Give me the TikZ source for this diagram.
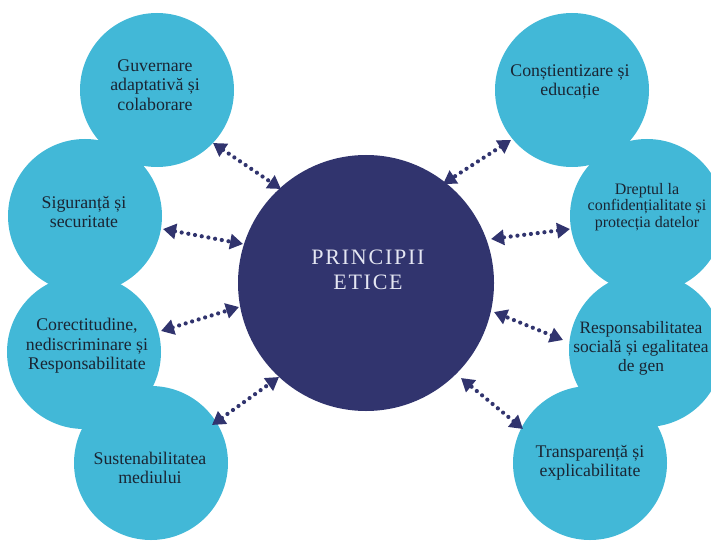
\documentclass[tikz,border=0pt]{standalone}
\usepackage{fontspec}
\setmainfont{Liberation Serif}
\usetikzlibrary{arrows.meta}
\definecolor{cy}{HTML}{42B8D7}
\definecolor{navy}{HTML}{31346E}
\definecolor{txt}{HTML}{1A2533}
\definecolor{ctxt}{HTML}{E4E6F2}
\begin{document}
\begin{tikzpicture}[x=1pt,y=-1pt,
  bub/.style={circle,fill=cy,minimum size=154pt,inner sep=0pt},
  lab/.style={align=center,text=txt,font=\fontsize{17.8}{19.5}\selectfont,inner sep=0pt},
  smalllab/.style={align=center,text=txt,font=\fontsize{16}{16.2}\selectfont,inner sep=0pt},
  link/.style={navy,line width=4.2pt,line cap=round,dash pattern=on 0pt off 6.8pt,
    {Triangle[length=13pt,width=15pt]}-{Triangle[length=13pt,width=15pt]}}
]
\useasboundingbox (0,0) rectangle (711,540);
\clip (0,0) rectangle (711,540);
% outer circles
\node[bub] (gov) at (157,90) {};
\node[bub] (sig) at (85,216) {};
\node[bub] (cor) at (84,352) {};
\node[bub] (sus) at (151,463) {};
\node[bub] (con) at (572,90) {};
\node[bub] (dre) at (647,216) {};
\node[bub] (res) at (646,350) {};
\node[bub] (tra) at (590,463) {};
% labels
\node[lab] (govt) at (155,85) {Guvernare\\adaptativă și\\colaborare};
\node[lab] (sigt) at (84,212) {Siguranță și\\securitate};
\node[lab] (cort) at (87,346) {Corectitudine,\\nediscriminare și\\Responsabilitate};
\node[lab] (sust) at (150,468) {Sustenabilitatea\\mediului};
\node[lab] (cont) at (570,82) {Conștientizare și\\educație};
\node[smalllab] (dret) at (647,207) {Dreptul la\\confidențialitate și\\protecția datelor};
\node[lab,font=\fontsize{17.4}{19}\selectfont] (rest) at (641,348) {Responsabilitatea\\socială și egalitatea\\de gen};
\node[lab] (trat) at (590,463) {Transparență și\\explicabilitate};
% arrow end points
\coordinate (a1) at (213,143); \coordinate (b1) at (281,189);
\coordinate (a2) at (163,229); \coordinate (b2) at (243,244);
\coordinate (a3) at (161,331); \coordinate (b3) at (239,307);
\coordinate (a4) at (212,425); \coordinate (b4) at (279,377);
\coordinate (a5) at (511,140); \coordinate (b5) at (443,184);
\coordinate (a6) at (570,229); \coordinate (b6) at (491,239);
\coordinate (a7) at (563,340); \coordinate (b7) at (494,312);
\coordinate (a8) at (523,429); \coordinate (b8) at (461,378);
\foreach \i in {1,...,8}{\draw[link] (a\i) -- (b\i);}
% central circle
\node[circle,fill=navy,minimum size=256pt,inner sep=0pt] (ctr) at (366,283) {};
\node[align=center,text=ctxt,inner sep=0pt,
  font=\fontsize{22}{25}\selectfont\addfontfeature{LetterSpace=8}] (ctrt) at (368,270) {PRINCIPII\\ETICE};
\end{tikzpicture}
\end{document}
